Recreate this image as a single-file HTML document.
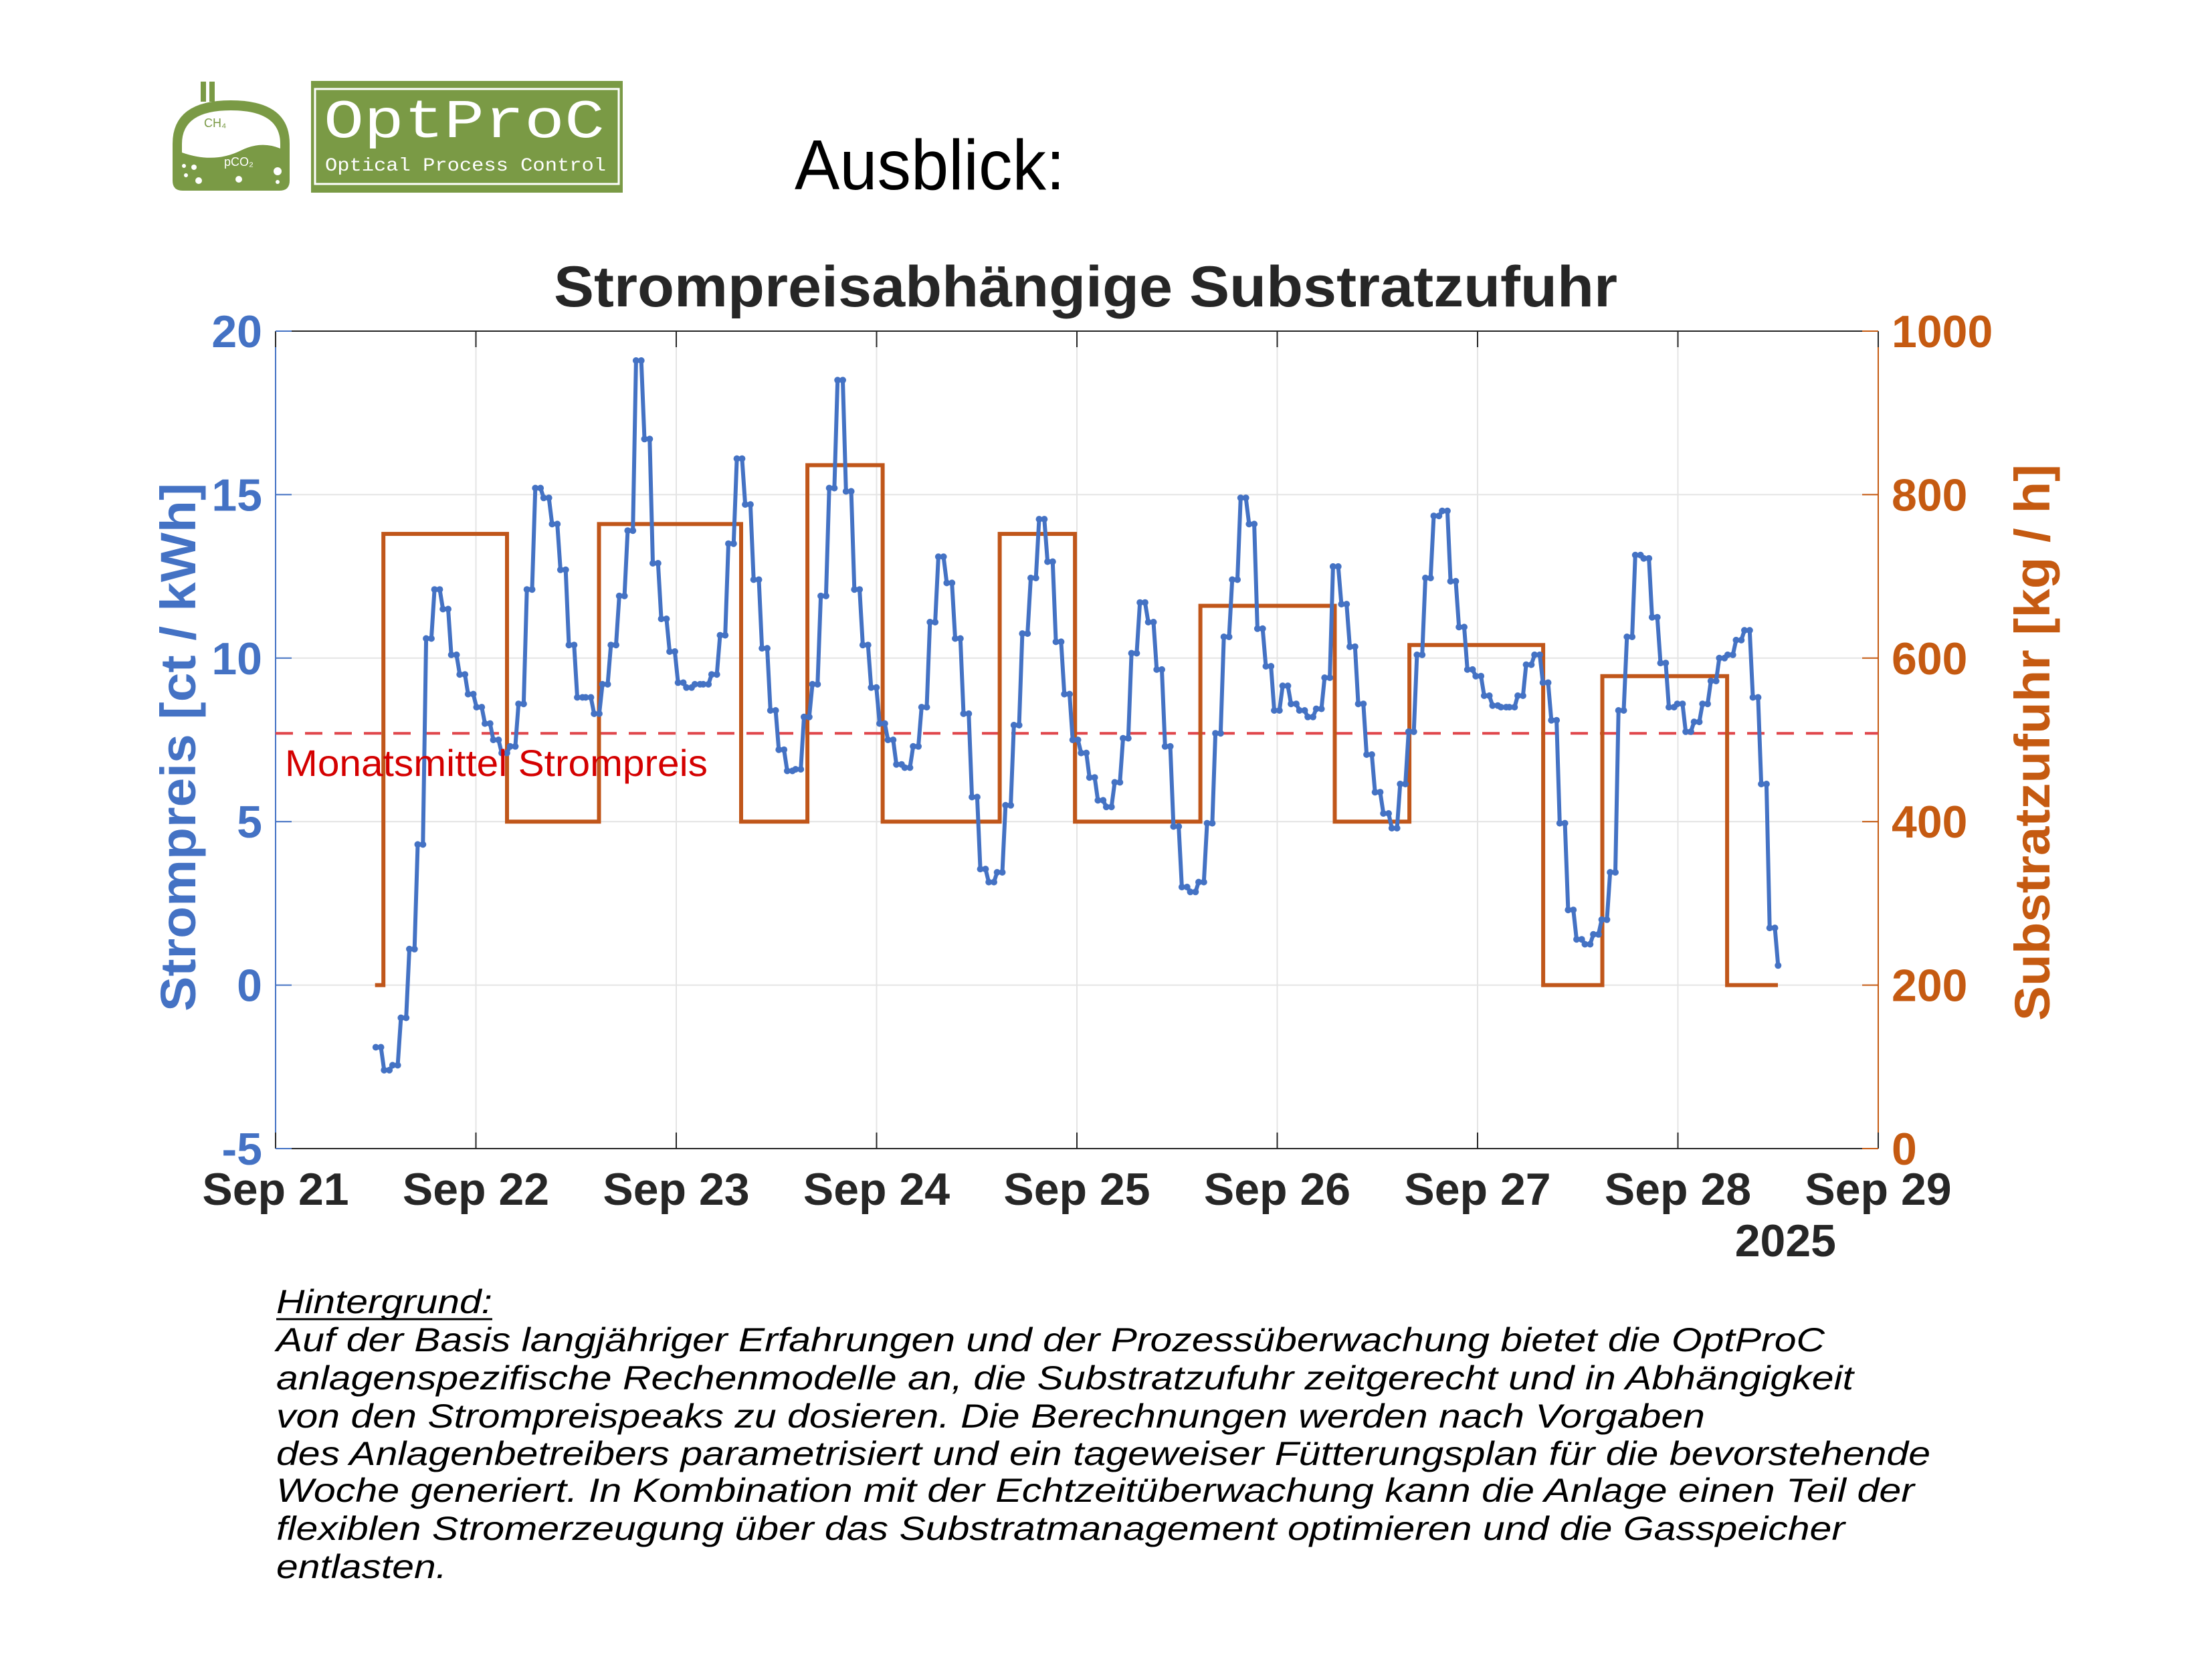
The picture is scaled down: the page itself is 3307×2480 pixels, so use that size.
<!DOCTYPE html>
<html><head><meta charset="utf-8"><style>html,body{margin:0;padding:0;background:#fff}svg{display:block}</style></head>
<body>
<svg id="s" xmlns="http://www.w3.org/2000/svg" width="3307" height="2480" viewBox="0 0 3307 2480" font-family="'Liberation Sans', sans-serif">
<rect width="3307" height="2480" fill="#fff"/>
<g>
<rect x="300" y="122" width="8" height="30" fill="#7a9a45"/><rect x="313" y="122" width="8" height="30" fill="#7a9a45"/>
<path d="M258,215 Q258,150 345,150 Q433,150 433,215 L433,270 Q433,285 418,285 L273,285 Q258,285 258,270 Z" fill="#7a9a45"/>
<path d="M272,215 Q272,165 345,165 Q419,165 419,215 L419,222 Q390,210 360,225 Q320,245 272,228 Z" fill="#fff"/>
<text x="305" y="190" font-size="18" fill="#7a9a45">CH₄</text>
<text x="335" y="248" font-size="18" fill="#fff">pCO₂</text>
<circle cx="275" cy="248" r="3" fill="#fff"/><circle cx="290" cy="250" r="4" fill="#fff"/><circle cx="278" cy="262" r="3" fill="#fff"/>
<circle cx="297" cy="270" r="5" fill="#fff"/><circle cx="357" cy="268" r="5" fill="#fff"/><circle cx="415" cy="256" r="6" fill="#fff"/><circle cx="415" cy="272" r="3" fill="#fff"/>
<rect x="465" y="121" width="466" height="167" fill="#7a9a45"/>
<rect x="471" y="133" width="454" height="142" fill="none" stroke="#fff" stroke-width="3"/>
<text x="484" y="205" font-family="'Liberation Mono', monospace" font-size="82" fill="#fff" textLength="420" lengthAdjust="spacingAndGlyphs">OptProC</text>
<text x="486" y="255" font-family="'Liberation Mono', monospace" font-size="28" fill="#fff" textLength="420" lengthAdjust="spacingAndGlyphs">Optical Process Control</text>
</g>
<text x="1188" y="283" font-size="106" fill="#000" textLength="404" lengthAdjust="spacingAndGlyphs">Ausblick:</text>
<text x="828" y="458" font-size="86" font-weight="bold" fill="#262626" textLength="1590" lengthAdjust="spacingAndGlyphs">Strompreisabhängige Substratzufuhr</text>
<g id="plot"></g>
<g font-family="'Liberation Sans', Arial, sans-serif" font-style="italic" font-size="50" fill="#000">
<text x="413" y="1963" textLength="323" lengthAdjust="spacingAndGlyphs">Hintergrund:</text>
<line x1="413" y1="1972" x2="736" y2="1972" stroke="#000" stroke-width="3"/>
<text x="413" y="2020" textLength="2315" lengthAdjust="spacingAndGlyphs">Auf der Basis langjähriger Erfahrungen und der Prozessüberwachung bietet die OptProC</text>
<text x="413" y="2077" textLength="2358" lengthAdjust="spacingAndGlyphs">anlagenspezifische Rechenmodelle an, die Substratzufuhr zeitgerecht und in Abhängigkeit</text>
<text x="413" y="2134" textLength="2136" lengthAdjust="spacingAndGlyphs">von den Strompreispeaks zu dosieren. Die Berechnungen werden nach Vorgaben</text>
<text x="413" y="2190" textLength="2473" lengthAdjust="spacingAndGlyphs">des Anlagenbetreibers parametrisiert und ein tageweiser Fütterungsplan für die bevorstehende</text>
<text x="413" y="2245" textLength="2449" lengthAdjust="spacingAndGlyphs">Woche generiert. In Kombination mit der Echtzeitüberwachung kann die Anlage einen Teil der</text>
<text x="413" y="2302" textLength="2345" lengthAdjust="spacingAndGlyphs">flexiblen Stromerzeugung über das Substratmanagement optimieren und die Gasspeicher</text>
<text x="413" y="2359" textLength="255" lengthAdjust="spacingAndGlyphs">entlasten.</text>
</g>
</svg>
<script>
(function(){
var g=document.getElementById("plot");
var L=412,R=2808,T=495,B=1717,DW=(R-L)/8;
function yv(v){return B-(v+5)*(B-T)/25;}
function yk(k){return B-k*(B-T)/1000;}
function X2(z){return 200+z/1.12;}
var h="";
for(var i=1;i<8;i++){var x=L+i*DW;h+='<line x1="'+x+'" y1="'+T+'" x2="'+x+'" y2="'+B+'" stroke="#e4e4e4" stroke-width="2"/>';}
for(var v=0;v<=15;v+=5){h+='<line x1="'+L+'" y1="'+yv(v)+'" x2="'+R+'" y2="'+yv(v)+'" stroke="#e4e4e4" stroke-width="2"/>';}
h+='<line x1="'+L+'" y1="'+T+'" x2="'+R+'" y2="'+T+'" stroke="#262626" stroke-width="2"/>';
h+='<line x1="'+L+'" y1="'+B+'" x2="'+R+'" y2="'+B+'" stroke="#262626" stroke-width="2"/>';
h+='<line x1="'+L+'" y1="'+T+'" x2="'+L+'" y2="'+B+'" stroke="#4472c4" stroke-width="2"/>';
h+='<line x1="'+R+'" y1="'+T+'" x2="'+R+'" y2="'+B+'" stroke="#c55a11" stroke-width="2"/>';
for(var i=0;i<=8;i++){var x=L+i*DW;h+='<line x1="'+x+'" y1="'+T+'" x2="'+x+'" y2="'+(T+24)+'" stroke="#262626" stroke-width="2"/><line x1="'+x+'" y1="'+B+'" x2="'+x+'" y2="'+(B-24)+'" stroke="#262626" stroke-width="2"/>';
 h+='<text x="'+x+'" y="1801" font-size="68" font-weight="bold" fill="#262626" text-anchor="middle">Sep '+(21+i)+'</text>';}
h+='<text x="2745" y="1878" font-size="68" font-weight="bold" fill="#262626" text-anchor="end">2025</text>';
for(var v=-5;v<=20;v+=5){var y=yv(v);h+='<line x1="'+L+'" y1="'+y+'" x2="'+(L+24)+'" y2="'+y+'" stroke="#4472c4" stroke-width="2"/><text x="392" y="'+(y+24)+'" font-size="68" font-weight="bold" fill="#4472c4" text-anchor="end">'+v+'</text>';}
for(var k=0;k<=1000;k+=200){var y=yk(k);h+='<line x1="'+(R-24)+'" y1="'+y+'" x2="'+R+'" y2="'+y+'" stroke="#c55a11" stroke-width="2"/><text x="2828" y="'+(y+24)+'" font-size="68" font-weight="bold" fill="#c55a11">'+k+'</text>';}
h+='<text transform="translate(292,1117) rotate(-90)" font-size="74" font-weight="bold" fill="#4472c4" text-anchor="middle" textLength="790" lengthAdjust="spacingAndGlyphs">Strompreis [ct / kWh]</text>';
h+='<text transform="translate(3064,1110) rotate(-90)" font-size="74" font-weight="bold" fill="#c55a11" text-anchor="middle" textLength="832" lengthAdjust="spacingAndGlyphs">Substratzufuhr [kg / h]</text>';
h+='<line x1="'+L+'" y1="'+yv(7.7)+'" x2="'+R+'" y2="'+yv(7.7)+'" stroke="#e0474c" stroke-width="4" stroke-dasharray="26,18"/>';
var st=[[404,200],[418,200],[418,752],[625,752],[625,400],[779,400],[779,764],[1017,764],[1017,400],[1128,400],[1128,836],[1254,836],[1254,400],[1450,400],[1450,752],[1576,752],[1576,400],[1786,400],[1786,664],[2011,664],[2011,400],[2136,400],[2136,616],[2360,616],[2360,200],[2459,200],[2459,578],[2668,578],[2668,200],[2753,200]];
var p="";st.forEach(function(a,i){p+=(i?"L":"M")+X2(a[0]).toFixed(1)+","+yk(a[1]).toFixed(1);});
h+='<path d="'+p+'" fill="none" stroke="#c0561a" stroke-width="6"/>';
var d=[-1.9,-2.6,-2.45,-1.0,1.1,4.3,10.6,12.1,11.5,10.1,9.5,8.9,8.5,8.0,7.5,7.1,7.3,8.6,12.1,15.2,14.9,14.1,12.7,10.4,8.8,8.8,8.3,9.2,10.4,11.9,13.9,19.1,16.7,12.9,11.2,10.2,9.25,9.1,9.2,9.2,9.5,10.7,13.5,16.1,14.7,12.4,10.3,8.4,7.2,6.55,6.6,8.2,9.2,11.9,15.2,18.5,15.1,12.1,10.4,9.1,8.0,7.5,6.75,6.65,7.3,8.5,11.1,13.1,12.3,10.6,8.3,5.75,3.55,3.15,3.45,5.5,7.95,10.75,12.45,14.25,12.95,10.5,8.9,7.5,7.1,6.35,5.65,5.45,6.2,7.55,10.15,11.7,11.1,9.65,7.3,4.85,3.0,2.85,3.15,4.95,7.7,10.65,12.4,14.9,14.1,10.9,9.75,8.4,9.15,8.6,8.4,8.2,8.45,9.4,12.8,11.65,10.35,8.6,7.05,5.9,5.25,4.8,6.15,7.75,10.1,12.45,14.35,14.5,12.35,10.95,9.65,9.45,8.85,8.55,8.5,8.5,8.85,9.8,10.1,9.25,8.1,4.95,2.3,1.4,1.25,1.55,2.0,3.45,8.4,10.65,13.15,13.05,11.25,9.85,8.5,8.6,7.75,8.05,8.6,9.3,10.0,10.1,10.55,10.85,8.8,6.15,1.75,0.6];
var n=d.length,x0=L+0.5*DW,x1=L+7.5*DW,dx=(x1-x0)/(n-1),pw=dx*0.62;
var q="",c="";
for(var i=0;i<n;i++){var xa=x0+i*dx,y=yv(d[i]);
 if(i<n-1){q+=(i?"L":"M")+xa.toFixed(1)+","+y.toFixed(1)+"L"+(xa+pw).toFixed(1)+","+y.toFixed(1);
  c+='<circle cx="'+xa.toFixed(1)+'" cy="'+y.toFixed(1)+'" r="5"/><circle cx="'+(xa+pw).toFixed(1)+'" cy="'+y.toFixed(1)+'" r="5"/>';}
 else{q+="L"+xa.toFixed(1)+","+y.toFixed(1);c+='<circle cx="'+xa.toFixed(1)+'" cy="'+y.toFixed(1)+'" r="5"/>';}}
h+='<path d="'+q+'" fill="none" stroke="#4472c4" stroke-width="6" stroke-linejoin="round"/>';
h+='<g fill="#4472c4">'+c+'</g>';
h+='<text x="426" y="1160" font-size="56" fill="#d40000" textLength="632" lengthAdjust="spacingAndGlyphs">Monatsmittel Strompreis</text>';
g.innerHTML=h;
})();
</script>
</body></html>
